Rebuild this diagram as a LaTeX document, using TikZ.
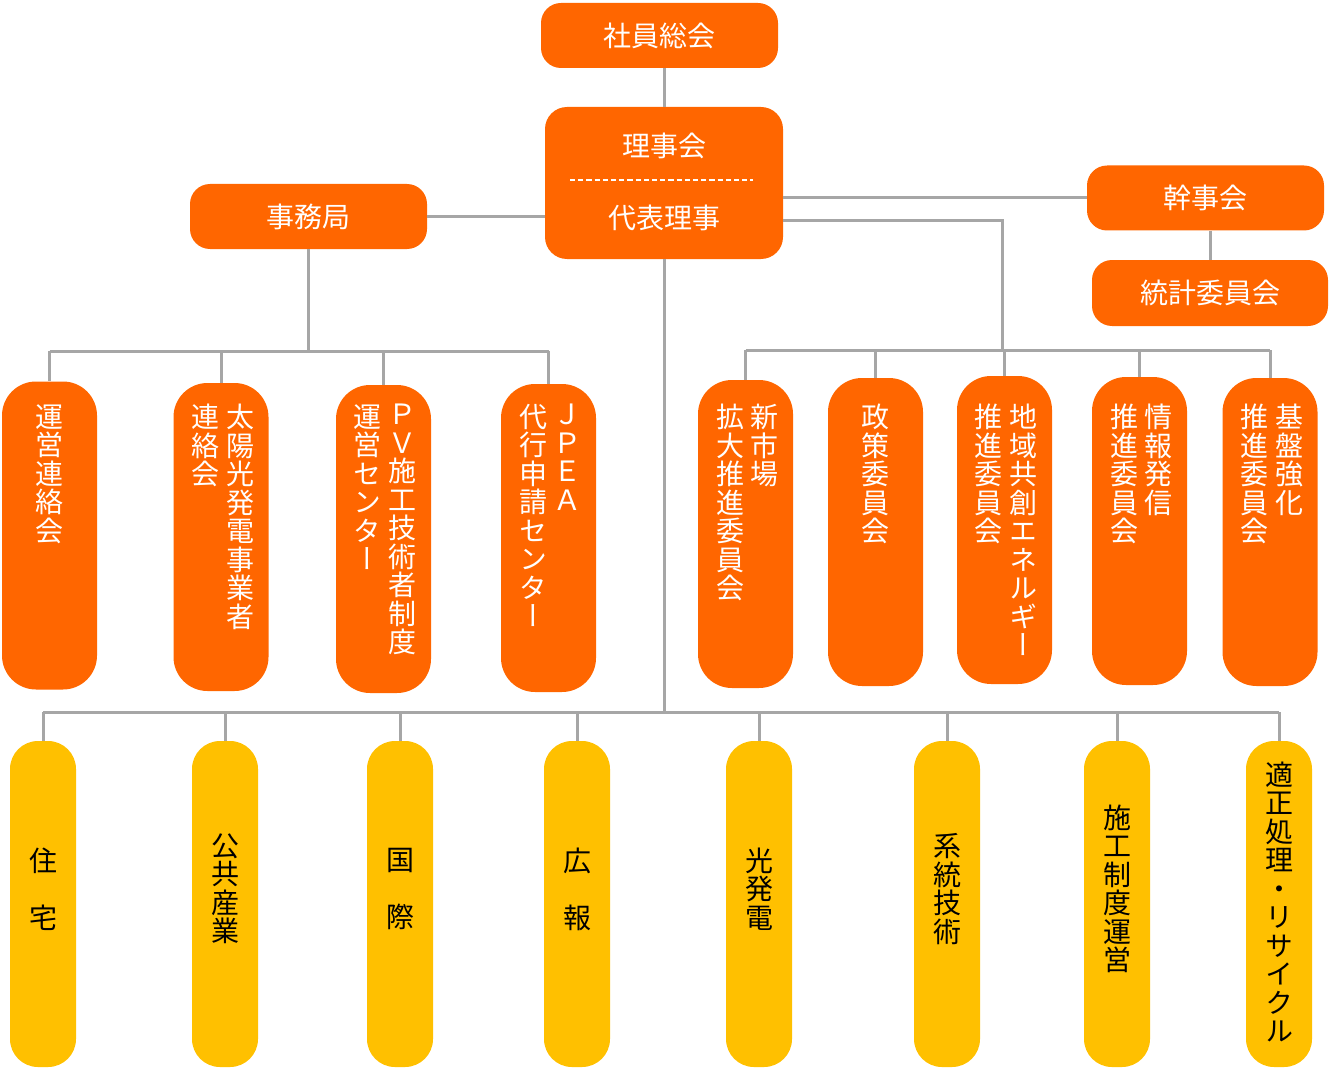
\documentclass[tikz,border=0pt]{standalone}
\usepackage{fontspec}
\usepackage{tikz}

\newfontfamily\cjk{Noto Sans CJK JP}
\newfontfamily\cjktate[RawFeature=+vert]{Noto Sans CJK JP}
\definecolor{kikanorange}{RGB}{255,102,0}
\definecolor{bukaiyellow}{RGB}{255,192,0}
\definecolor{sengray}{RGB}{166,166,166}

\tikzset{
  yokotext/.style={inner sep=0pt, text=white, font=\cjk\fontsize{28}{30}\selectfont},
  yokobox/.style={yokotext, fill=kikanorange, rounded corners=20pt, minimum width=237pt,
    minimum height=65pt},
  tatebox/.style={fill=kikanorange, rounded corners=34pt, minimum width=95pt,
    minimum height=308pt, inner sep=0pt},
  bukaibox/.style={fill=bukaiyellow, rounded corners=28pt, minimum width=66pt,
    minimum height=326pt, inner sep=0pt},
  tatetext/.style={font=\cjktate\fontsize{28}{28.5}\selectfont, align=center,
    inner sep=0pt, anchor=north, text=white},
  bukaitext/.style={tatetext, anchor=center, text=black},
  sen/.style={draw=sengray, line width=3pt},
}

\begin{document}
\begin{tikzpicture}[x=1pt, y=-1pt]
      \useasboundingbox (0,0) rectangle (1329,1075);
      % top part
      \node[yokobox] (shain) at (659.5,35.5) {社員総会};
      \node[yokobox, minimum width=238pt, minimum height=152pt, rounded corners=22pt] (riji) at (664,183) {};
      \node[yokotext] (rijikai) at (664,146) {理事会};
      \node[yokotext] (daihyo) at (664,218) {代表理事};
      \draw[white, line width=1.3pt, dash pattern=on 5.2pt off 3pt] (570,180) -- (753,180);
      \node[yokobox] (jimu) at (308.5,216.5) {事務局};
      \node[yokobox] (kanji) at (1205.5,198) {幹事会};
      \node[yokobox, minimum width=236pt, minimum height=66pt] (tokei) at (1210,293) {統計委員会};
      \coordinate (migikado) at (1002,221);
      \coordinate (hidaribus) at (308.5,351);
      \coordinate (migibus) at (1002,350);
      \coordinate (shitabus) at (663,712);
      % orange committees
      \node[tatebox] (unei) at (49.5,535.5) {};
      \node[tatebox] (taiyo) at (221,537) {};
      \node[tatebox] (pv) at (383.5,539) {};
      \node[tatebox] (jpea) at (548.5,538) {};
      \node[tatebox] (shinshijo) at (745.5,534) {};
      \node[tatebox] (seisaku) at (875.5,532) {};
      \node[tatebox] (chiiki) at (1004.5,530) {};
      \node[tatebox] (joho) at (1139.5,531) {};
      \node[tatebox] (kiban) at (1270,532) {};
      \node[tatetext] (unei-a) at (49.5,404) {運\\営\\連\\絡\\会};
      \node[tatetext] (taiyo-a) at (240,404) {太\\陽\\光\\発\\電\\事\\業\\者};
      \node[tatetext] (taiyo-b) at (205,404) {連\\絡\\会};
      \node[tatetext] (pv-a) at (402,404) {Ｐ\\Ｖ\\施\\工\\技\\術\\者\\制\\度};
      \node[tatetext] (pv-b) at (367,404) {運\\営\\セ\\ン\\タ\\ー};
      \node[tatetext] (jpea-a) at (567.5,404) {Ｊ\\Ｐ\\Ｅ\\Ａ};
      \node[tatetext] (jpea-b) at (533,404) {代\\行\\申\\請\\セ\\ン\\タ\\ー};
      \node[tatetext] (shinshijo-a) at (764.5,404) {新\\市\\場};
      \node[tatetext] (shinshijo-b) at (730,404) {拡\\大\\推\\進\\委\\員\\会};
      \node[tatetext] (seisaku-a) at (875.5,404) {政\\策\\委\\員\\会};
      \node[tatetext] (chiiki-a) at (1023,404) {地\\域\\共\\創\\エ\\ネ\\ル\\ギ\\ー};
      \node[tatetext] (chiiki-b) at (988.5,404) {推\\進\\委\\員\\会};
      \node[tatetext] (joho-a) at (1158.5,404) {情\\報\\発\\信};
      \node[tatetext] (joho-b) at (1124,404) {推\\進\\委\\員\\会};
      \node[tatetext] (kiban-a) at (1289,404) {基\\盤\\強\\化};
      \node[tatetext] (kiban-b) at (1254.5,404) {推\\進\\委\\員\\会};
      % yellow sections
      \node[bukaibox] (jutaku) at (43,904) {};
      \node[bukaibox] (kokyo) at (225,904) {};
      \node[bukaibox] (kokusai) at (400,904) {};
      \node[bukaibox] (koho) at (577,904) {};
      \node[bukaibox] (hikari) at (759,904) {};
      \node[bukaibox] (keito) at (947,904) {};
      \node[bukaibox] (sekou) at (1117,904) {};
      \node[bukaibox] (tekisei) at (1279,904) {};
      \node[bukaitext] (jutaku-a) at (43,889) {住\\\mbox{}\\宅};
      \node[bukaitext] (kokyo-a) at (225,889) {公\\共\\産\\業};
      \node[bukaitext] (kokusai-a) at (400,889) {国\\\mbox{}\\際};
      \node[bukaitext] (koho-a) at (577,889) {広\\\mbox{}\\報};
      \node[bukaitext] (hikari-a) at (759,889) {光\\発\\電};
      \node[bukaitext] (keito-a) at (947,889) {系\\統\\技\\術};
      \node[bukaitext] (sekou-a) at (1117,889) {施\\工\\制\\度\\運\\営};
      \node[bukaitext] (tekisei-a) at (1279,902) {適\\正\\処\\理\\・\\リ\\サ\\イ\\ク\\ル};
      % connectors
      \draw[sen] (shain.south -| riji.north) -- (riji.north);
      \draw[sen] (jimu.east) -- (jimu.east -| riji.west);
      \draw[sen] (riji.east |- kanji.west) -- (kanji.west);
      \draw[sen] (kanji.south -| tokei.north) -- (tokei.north);
      \draw[sen] (riji.east |- migikado) -- (migikado) -- (migibus);
      \draw[sen] (jimu.south) -- (hidaribus);
      \draw[sen] (riji.south) -- (riji.south |- shitabus);
      \draw[sen] (unei.north |- hidaribus) -- (jpea.north |- hidaribus);
      \draw[sen] (shinshijo.north |- migibus) -- (kiban.north |- migibus);
      \draw[sen] (jutaku.north |- shitabus) -- (tekisei.north |- shitabus);
      \foreach \n in {unei,taiyo,pv,jpea}
        \draw[sen] (\n.north |- hidaribus) -- (\n.north);
      \foreach \n in {shinshijo,seisaku,chiiki,joho,kiban}
        \draw[sen] (\n.north |- migibus) -- (\n.north);
      \foreach \n in {jutaku,kokyo,kokusai,koho,hikari,keito,sekou,tekisei}
        \draw[sen] (\n.north |- shitabus) -- (\n.north);
    \end{tikzpicture}
\end{document}
